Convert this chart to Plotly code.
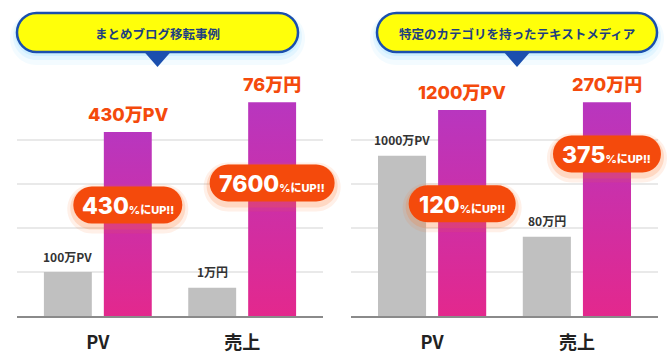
import plotly.graph_objects as go

# ---------------- data ----------------
categories = ["PV", "売上"]
panel_titles = ["まとめブログ移転事例", "特定のカテゴリを持ったテキストメディア"]
# illustrative bar heights (chart units; one gridline = 1)
before_heights = [[1.0, 0.64], [3.64, 1.80]]
after_heights = [[4.18, 4.86], [4.68, 4.86]]
before_labels = [["100万PV", "1万円"], ["1000万PV", "80万円"]]
after_labels = [["430万PV", "76万円"], ["1200万PV", "270万円"]]
badge_numbers = [["430", "7600"], ["120", "375"]]
badge_suffix = "%にUP!!"
# badge vertical positions (chart units) and widths (px)
badge_y = [[2.52, 3.02], [2.55, 3.68]]
badge_w = [[109, 125], [107, 108]]

# ---------------- geometry ----------------
W, H = 670, 360
X_DOMAINS = [(17, 323), (351, 658)]
Y_BOTTOM, Y_TOP = 316, 96
Y_RANGE = (0, 5)
X_RANGE = (-0.56, 1.56)
BAR_W = 0.332
OFF = 0.2076

GRAY = "#C0C0C0"
ORANGE = "#F44A0C"
NAVY = "#1E3F80"
BLUE = "#1A4FAE"
YELLOW = "#FFFF0A"
FONT = "Noto Sans CJK JP"
NUMFONT = "Inter, 'Noto Sans CJK JP'"


def px(x):
    return x / W


def py(y):
    return 1 - y / H


def data_to_px(panel, xv, yv):
    x0, x1 = X_DOMAINS[panel]
    xp = x0 + (xv - X_RANGE[0]) / (X_RANGE[1] - X_RANGE[0]) * (x1 - x0)
    yp = Y_BOTTOM - (yv - Y_RANGE[0]) / (Y_RANGE[1] - Y_RANGE[0]) * (Y_BOTTOM - Y_TOP)
    return xp, yp


def pill_path(x0, y0, x1, y1, r=None):
    if r is None:
        r = (y1 - y0) / 2
    k = 0.5523 * r

    def P(x, y):
        return f"{px(x):.5f},{py(y):.5f}"

    s = f"M {P(x0 + r, y0)} L {P(x1 - r, y0)} "
    s += f"C {P(x1 - r + k, y0)} {P(x1, y0 + r - k)} {P(x1, y0 + r)} "
    s += f"L {P(x1, y1 - r)} "
    s += f"C {P(x1, y1 - r + k)} {P(x1 - r + k, y1)} {P(x1 - r, y1)} "
    s += f"L {P(x0 + r, y1)} "
    s += f"C {P(x0 + r - k, y1)} {P(x0, y1 - r + k)} {P(x0, y1 - r)} "
    s += f"L {P(x0, y0 + r)} "
    s += f"C {P(x0, y0 + r - k)} {P(x0 + r - k, y0)} {P(x0 + r, y0)} Z"
    return s


fig = go.Figure()
shapes = []
annotations = []

for p in range(2):
    xa = "x" if p == 0 else "x2"
    ya = "y" if p == 0 else "y2"
    # gray "before" bars
    fig.add_trace(go.Bar(
        x=[i - OFF for i in range(len(categories))],
        y=before_heights[p], width=BAR_W,
        marker=dict(color=GRAY, line=dict(width=0)),
        xaxis=xa, yaxis=ya, hoverinfo="skip", showlegend=False,
    ))
    # gradient "after" bars
    for i in range(len(categories)):
        c = i + OFF
        h = after_heights[p][i]
        fig.add_trace(go.Scatter(
            x=[c - BAR_W / 2, c + BAR_W / 2, c + BAR_W / 2, c - BAR_W / 2, c - BAR_W / 2],
            y=[0, 0, h, h, 0],
            mode="lines", line=dict(width=0, color="rgba(0,0,0,0)"),
            fill="toself",
            fillgradient=dict(type="vertical",
                              colorscale=[[0, "#E3288D"], [1, "#B836BF"]]),
            xaxis=xa, yaxis=ya, hoverinfo="skip", showlegend=False,
        ))
        # value labels
        annotations.append(dict(
            x=i - OFF, y=before_heights[p][i], xref=xa, yref=ya,
            text=before_labels[p][i], showarrow=False, yanchor="middle", yshift=16,
            font=dict(family=FONT, size=12, color="#333333", weight="bold"),
        ))
        annotations.append(dict(
            x=c, y=h, xref=xa, yref=ya,
            text=after_labels[p][i], showarrow=False, yanchor="middle", yshift=18,
            font=dict(family=NUMFONT, size=18, color=ORANGE, weight=800),
        ))
        # badge
        bx, by = data_to_px(p, c, badge_y[p][i])
        bw = badge_w[p][i]
        bh = 37
        for grow, dy, a in [(6, 4, 0.10), (3, 3, 0.18)]:
            shapes.append(dict(
                type="path", xref="paper", yref="paper", layer="above",
                path=pill_path(bx - bw / 2 - grow, by - bh / 2 - grow + dy,
                               bx + bw / 2 + grow, by + bh / 2 + grow + dy),
                fillcolor=f"rgba(255,110,30,{a})", line=dict(width=0),
            ))
        shapes.append(dict(
            type="path", xref="paper", yref="paper", layer="above",
            path=pill_path(bx - bw / 2, by - bh / 2, bx + bw / 2, by + bh / 2),
            fillcolor=ORANGE, line=dict(width=0),
        ))
        annotations.append(dict(
            x=px(bx), y=py(by + 1), xref="paper", yref="paper",
            text=(f"<span style='font-size:23px'>{badge_numbers[p][i]}</span>"
                  f"<span style='font-size:11px'>{badge_suffix}</span>"),
            showarrow=False, xanchor="center", yanchor="middle",
            font=dict(family=NUMFONT, size=23, color="white", weight=800),
        ))

    # callout header
    cx0, cx1 = (17, 298) if p == 0 else (377, 657)
    cy0, cy1 = 13, 52
    ccx = (cx0 + cx1) / 2
    for grow, dy, a in [(7, 6, 0.12), (4, 4, 0.2), (2, 2, 0.3)]:
        shapes.append(dict(
            type="path", xref="paper", yref="paper", layer="above",
            path=pill_path(cx0 - grow, cy0 - grow + dy, cx1 + grow, cy1 + grow + dy),
            fillcolor=f"rgba(160,225,255,{a})", line=dict(width=0),
        ))
    shapes.append(dict(
        type="path", xref="paper", yref="paper", layer="above",
        path=(f"M {px(ccx - 14):.5f},{py(cy1 - 1):.5f} L {px(ccx + 14):.5f},{py(cy1 - 1):.5f} "
              f"L {px(ccx):.5f},{py(67):.5f} Z"),
        fillcolor=BLUE, line=dict(width=0),
    ))
    shapes.append(dict(
        type="path", xref="paper", yref="paper", layer="above",
        path=pill_path(cx0, cy0, cx1, cy1),
        fillcolor=YELLOW, line=dict(width=2.5, color=BLUE),
    ))
    annotations.append(dict(
        x=px(ccx), y=py(33), xref="paper", yref="paper",
        text=panel_titles[p], showarrow=False, xanchor="center", yanchor="middle",
        font=dict(family=FONT, size=12.5, color=NAVY, weight="bold"),
    ))

axis_common_x = dict(
    range=list(X_RANGE), tickvals=list(range(len(categories))), ticktext=categories,
    showgrid=False, zeroline=False, showline=True, linecolor="#8A8A8A", linewidth=1.5,
    ticks="", tickfont=dict(family=FONT, size=18, color="#222222", weight="bold"),
    ticklabelstandoff=10, fixedrange=True,
)
axis_common_y = dict(
    range=list(Y_RANGE), tickvals=[1, 2, 3, 4], showticklabels=False,
    showgrid=True, gridcolor="#E9E9E9", gridwidth=1.5, zeroline=False,
    showline=False, ticks="", fixedrange=True,
    domain=[(H - Y_BOTTOM) / H, (H - Y_TOP) / H],
)

fig.update_layout(
    width=W, height=H,
    margin=dict(l=0, r=0, t=0, b=0),
    paper_bgcolor="white", plot_bgcolor="white",
    showlegend=False, hovermode=False,
    barmode="overlay",
    xaxis=dict(domain=[X_DOMAINS[0][0] / W, X_DOMAINS[0][1] / W], anchor="y", **axis_common_x),
    xaxis2=dict(domain=[X_DOMAINS[1][0] / W, X_DOMAINS[1][1] / W], anchor="y2", **axis_common_x),
    yaxis=dict(anchor="x", **axis_common_y),
    yaxis2=dict(anchor="x2", **axis_common_y),
    shapes=shapes,
    annotations=annotations,
)

fig.write_html(
    "out.html",
    config={"displayModeBar": False},
    post_script="document.body.style.margin='0';document.body.style.overflow='hidden';",
)
